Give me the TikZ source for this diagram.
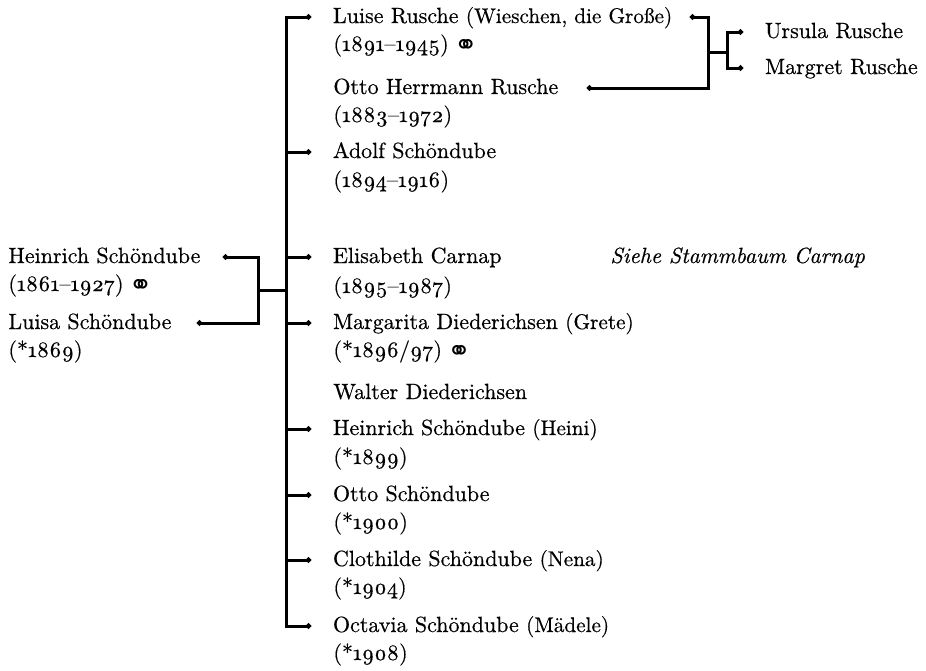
\documentclass[tikz,border=0pt]{standalone}
\usepackage{fontspec}
\setmainfont{Latin Modern Roman}[FakeBold=0.5]
\newfontfamily\osffont{Latin Modern Roman}[Numbers=OldStyle,FakeBold=0.5]
\newfontfamily\symfont{DejaVu Sans}
\usetikzlibrary{arrows.meta}
\newcommand\osf[1]{{\osffont #1}}
\newcommand\nick[1]{{\fontsize{10.6}{12}\selectfont #1}}
\newcommand\marr{\hspace{-1pt}\raisebox{-1.8pt}{\symfont\fontsize{14}{14}\selectfont ⚭}}
\tikzset{
  tree/.style={line width=1.5pt, line cap=rect},
  dotend/.style={-{Circle[length=2.5pt]}},
  dotboth/.style={{Circle[length=2.5pt]}-{Circle[length=2.5pt]}},
  pname/.style={anchor=base west, inner xsep=0pt, inner ysep=1pt, outer xsep=11pt, outer ysep=0pt},
  pdate/.style={anchor=base west, inner sep=0pt},
  plain/.style={anchor=base west, inner sep=0pt},
}
\begin{document}
\begin{tikzpicture}[x=0.5pt,y=-0.5pt,font=\fontsize{11}{14}\selectfont]
\useasboundingbox (0,0) rectangle (926,670);
% children column
\node[pname] (luise) at (311,23) {Luise Rusche \nick{(Wieschen, die Große)}};
\node[pdate] (luised) at (333,51) {(\osf{1891}–\osf{1945}) \marr};
\node[plain] (ottoh) at (333,94) {Otto Herrmann Rusche};
\node[pdate] (ottohd) at (333,122) {(\osf{1883}–\osf{1972})};
\node[pname] (adolf) at (311,158) {Adolf Schöndube};
\node[pdate] (adolfd) at (333,187) {(\osf{1894}–\osf{1916})};
\node[pname] (elis) at (311,263) {Elisabeth Carnap};
\node[pdate] (elisd) at (333,293) {(\osf{1895}–\osf{1987})};
\node[plain,font=\fontsize{11}{14}\selectfont\itshape] (siehe) at (610,263) {Siehe Stammbaum Carnap};
\node[pname] (marg) at (311,329) {Margarita Diederichsen \nick{(Grete)}};
\node[pdate] (margd) at (333,357) {(*\osf{1896}/\osf{97}) \marr};
\node[plain] (walter) at (333,399) {Walter Diederichsen};
\node[pname] (heini) at (311,435) {Heinrich Schöndube \nick{(Heini)}};
\node[pdate] (heinid) at (333,464) {(*\osf{1899})};
\node[pname] (otto) at (311,501) {Otto Schöndube};
\node[pdate] (ottod) at (333,529) {(*\osf{1900})};
\node[pname] (cloth) at (311,566) {Clothilde Schöndube \nick{(Nena)}};
\node[pdate] (clothd) at (333,594) {(*\osf{1904})};
\node[pname] (octa) at (311,632) {Octavia Schöndube \nick{(Mädele)}};
\node[pdate] (octad) at (333,660) {(*\osf{1908})};
% parents
\node[plain] (heinrich) at (8,263) {Heinrich Schöndube};
\node[pdate] (heinrichd) at (8,291) {(\osf{1861}–\osf{1927}) \marr};
\node[plain] (luisa) at (8,329) {Luisa Schöndube};
\node[pdate] (luisad) at (8,357) {(*\osf{1869})};
% grandchildren
\node[pname] (ursula) at (743,38) {Ursula Rusche};
\node[pname] (margret) at (743,74) {Margret Rusche};
% bus coordinates
\coordinate (bLuise) at (286,17);
\coordinate (bAdolf) at (286,152);
\coordinate (bElis) at (286,257);
\coordinate (bMarg) at (286,323);
\coordinate (bHeini) at (286,429);
\coordinate (bOtto) at (286,495);
\coordinate (bCloth) at (286,560);
\coordinate (bOcta) at (286,626);
\coordinate (bMid) at (286,290);
% main bus
\draw[tree,dotboth] (bLuise -| luise.west) -- (bLuise) -- (bOcta) -- (bOcta -| octa.west);
\foreach \b/\n in {bAdolf/adolf, bElis/elis, bMarg/marg, bHeini/heini, bOtto/otto, bCloth/cloth}
  \draw[tree,dotend] (\b) -- (\b -| \n.west);
% parents bracket
\coordinate (pJ) at (258,290);
\coordinate (hE) at (223,257);
\coordinate (lE) at (197,323);
\draw[tree,dotboth] (hE) -- (hE -| pJ) -- (lE -| pJ) -- (lE);
\draw[tree] (pJ) -- (bMid);
% Rusche bracket
\coordinate (rL) at (690,17);
\coordinate (rO) at (587,88);
\coordinate (rJ) at (708,52);
\coordinate (kJ) at (727,52);
\coordinate (uY) at (727,32);
\coordinate (mY) at (727,68);
\draw[tree,dotboth] (rL) -- (rL -| rJ) -- (rO -| rJ) -- (rO);
\draw[tree] (rJ) -- (kJ);
\draw[tree,dotboth] (uY -| ursula.west) -- (uY) -- (mY) -- (mY -| margret.west);
\end{tikzpicture}
\end{document}
